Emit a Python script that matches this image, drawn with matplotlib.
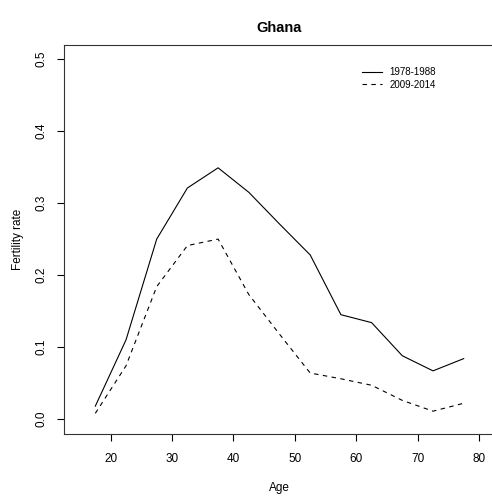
import matplotlib
matplotlib.use("Agg")
import matplotlib.pyplot as plt

plt.rcParams["font.family"] = ["Liberation Sans", "DejaVu Sans"]

age = [17.5, 22.5, 27.5, 32.5, 37.5, 42.5, 47.5, 52.5, 57.5, 62.5, 67.5, 72.5, 77.5]
rate_1978_1988 = [0.018, 0.110, 0.250, 0.321, 0.349, 0.315, 0.271, 0.228, 0.145, 0.134, 0.088, 0.067, 0.084]
rate_2009_2014 = [0.008, 0.074, 0.184, 0.241, 0.250, 0.173, 0.118, 0.064, 0.056, 0.047, 0.026, 0.011, 0.022]
series_labels = ["1978-1988", "2009-2014"]

fig = plt.figure(figsize=(4.92, 4.96), dpi=100)
ax = fig.add_axes([64 / 492, 1 - 433.5 / 496, 431 / 492, 388.8 / 496])

ax.plot(age, rate_1978_1988, color="black", lw=0.8, label=series_labels[0])
ax.plot(age, rate_2009_2014, color="black", lw=0.8, linestyle=(0, (4, 4)), label=series_labels[1])

ax.set_xlim(12.4, 82.6)
ax.set_ylim(-0.02, 0.52)
ax.set_xticks([20, 30, 40, 50, 60, 70, 80])
ax.set_yticks([0.0, 0.1, 0.2, 0.3, 0.4, 0.5])
ax.set_yticklabels(["0.0", "0.1", "0.2", "0.3", "0.4", "0.5"], rotation=90, va="center")
ax.tick_params(direction="out", length=5, width=0.8, labelsize=8.5)
ax.tick_params(axis="x", pad=9)
ax.tick_params(axis="y", pad=7)
for s in ax.spines.values():
    s.set_linewidth(0.8)
    s.set_color("#333333")

ax.set_xlabel("Age", fontsize=8.5, labelpad=12)
ax.set_ylabel("Fertility rate", fontsize=8.5, labelpad=8)
fig.text(0.5 * (64 + 495) / 492, 1 - 28 / 496, "Ghana", ha="center", va="center",
         fontsize=10.5, fontweight="bold")

ax.legend(loc="upper left", bbox_to_anchor=(0.681, 0.954), frameon=False, fontsize=7,
          handlelength=2.0, handletextpad=0.8, labelspacing=0.25, borderpad=0)

fig.savefig("out.png", dpi=100)
